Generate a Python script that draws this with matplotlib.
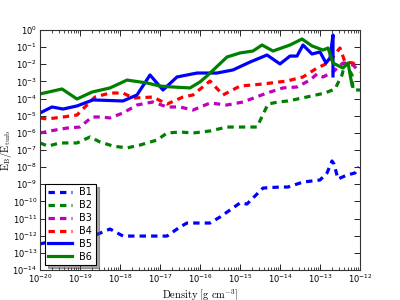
import numpy as np
import matplotlib
matplotlib.use("Agg")
import matplotlib.pyplot as plt

# log10 of density and log10 of E_B/E_turb
b1_lx = [-20, -19.55, -19.175, -18.675, -18.25, -17.925, -17.5, -16.825, -16.5, -16.325, -16.0, -15.75,
         -15.5, -15.175, -15.0, -14.825, -14.675, -14.425, -14.0, -13.8, -13.425, -13.0, -12.825, -12.7,
         -12.65, -12.55, -12.325, -12.125, -12.025]
b1_ly = [-12.48, -12.25, -12.075, -12.02, -11.61, -12.02, -12.02, -12.02, -11.49, -11.26, -11.26, -11.26,
         -10.91, -10.38, -10.09, -10.15, -9.8, -9.22, -9.16, -9.16, -8.87, -8.75, -8.34, -7.64,
         -7.82, -8.69, -8.46, -8.34, -7.99]

b2_lx = [-20, -19.8, -19.5, -19.075, -18.75, -18.5, -18.175, -17.825, -17.5, -17.075, -16.825, -16.5,
         -16.175, -15.75, -15.325, -14.575, -14.3, -14.05, -13.8, -13.45, -12.875, -12.625, -12.45,
         -12.375, -12.2, -12.175, -12.0]
b2_ly = [-6.59, -6.77, -6.59, -6.59, -6.24, -6.53, -6.77, -6.88, -6.71, -6.42, -6.01, -5.95,
         -6.01, -5.89, -5.66, -5.66, -4.32, -4.2, -4.14, -3.97, -3.675, -3.44, -2.625,
         -1.925, -2.625, -3.5, -3.5]

b3_lx = [-20, -19.75, -19.325, -19.0, -18.7, -18.5, -18.25, -17.925, -17.575, -17.175, -16.825, -16.5,
         -16.175, -15.75, -15.325, -14.925, -14.325, -13.925, -13.575, -13.25, -13.075, -12.925,
         -12.675, -12.425, -12.175, -12.0]
b3_ly = [-6.01, -5.89, -5.72, -5.66, -5.075, -5.075, -5.13, -4.84, -4.375, -4.2, -4.49, -4.49,
         -4.67, -4.26, -4.375, -4.2, -3.675, -3.38, -3.325, -2.92, -2.57, -2.74,
         -2.45, -1.925, -2.04, -2.45]

b4_lx = [-20, -19.825, -19.425, -19.075, -18.825, -18.625, -18.25, -17.925, -17.675, -17.175, -16.825,
         -16.425, -16.175, -15.75, -15.425, -15.0, -14.425, -13.825, -13.425, -13.075, -12.8, -12.5,
         -12.375, -12.175, -12.05]
b4_ly = [-5.13, -5.19, -5.075, -4.96, -4.375, -3.91, -3.675, -3.675, -3.97, -3.91, -4.32,
         -3.91, -3.79, -2.975, -3.79, -3.27, -3.15, -2.975, -2.74, -2.22, -1.925, -1.05,
         -1.87, -1.925, -2.16]

b5_lx = [-20, -19.7, -19.425, -19.075, -18.675, -17.925, -17.575, -17.25, -16.925, -16.575, -16.075,
         -15.575, -15.175, -14.75, -14.325, -14.0, -13.75, -13.575, -13.425, -13.2, -13.0, -12.85,
         -12.75, -12.675, -12.675]
b5_ly = [-4.84, -4.49, -4.61, -4.43, -4.08, -4.14, -3.79, -2.625, -3.5, -2.74, -2.51,
         -2.51, -2.33, -1.87, -1.46, -1.98, -1.52, -1.52, -0.875, -1.4, -1.28, -1.925,
         -1.63, -0.29, -2.68]

b6_lx = [-20, -19.45, -19.075, -18.7, -18.25, -17.825, -17.325, -17.0, -16.675, -16.25, -16.0, -15.825,
         -15.325, -15.0, -14.675, -14.45, -14.175, -13.75, -13.45, -13.2, -12.925, -12.8, -12.675,
         -12.425, -12.3, -12.2]
b6_ly = [-3.73, -3.44, -4.025, -3.62, -3.38, -2.92, -3.09, -3.27, -3.325, -3.38, -3.03, -2.68,
         -1.575, -1.34, -1.225, -0.875, -1.225, -0.875, -0.525, -0.93, -1.17, -1.05, -1.925,
         -2.22, -1.925, -3.21]

labels = ["B1", "B2", "B3", "B4", "B5", "B6"]

series = [(b1_lx, b1_ly), (b2_lx, b2_ly), (b3_lx, b3_ly), (b4_lx, b4_ly), (b5_lx, b5_ly), (b6_lx, b6_ly)]
colors = ["#0000ff", "#008000", "#bf00bf", "#ff0000", "#0000ff", "#008000"]
styles = ["--", "--", "--", "--", "-", "-"]

plt.rcParams["font.family"] = ["DejaVu Sans"]
plt.rcParams["mathtext.fontset"] = "dejavusans"

fig = plt.figure(figsize=(4, 3), dpi=100)
ax = fig.add_axes([0.1, 0.1, 0.8, 0.8])

for (lx, ly), c, ls, lab in zip(series, colors, styles, labels):
    line, = ax.plot(np.power(10.0, lx), np.power(10.0, ly), color=c, ls=ls, lw=2.3, label=lab)
    if ls == "--":
        line.set_dashes((2.0, 1.6))

ax.set_xscale("log")
ax.set_yscale("log")
ax.set_xlim(1e-20, 1e-12)
ax.set_ylim(1e-14, 1e0)
ax.yaxis.set_major_locator(matplotlib.ticker.LogLocator(base=10, numticks=20))
ax.yaxis.set_minor_locator(matplotlib.ticker.NullLocator())
ax.xaxis.set_major_locator(matplotlib.ticker.LogLocator(base=10, numticks=20))
ax.xaxis.set_minor_locator(matplotlib.ticker.LogLocator(base=10, subs=np.arange(2, 10), numticks=20))

ax.tick_params(which="both", direction="in", top=True, right=True, labelsize=6, pad=2)
ax.tick_params(which="major", length=4, width=0.6)
ax.tick_params(which="minor", length=2, width=0.5)
for s in ax.spines.values():
    s.set_linewidth(0.8)
    s.set_color("#333333")

ax.set_xlabel(r"$\mathrm{Density\ [g\ cm^{-3}]}$", fontsize=7.5, math_fontfamily="cm")
ax.set_ylabel(r"$\mathrm{E_B/E_{turb}}$", fontsize=7.5, math_fontfamily="cm")
ax.xaxis.set_label_coords(0.5, -0.075)
ax.yaxis.set_label_coords(-0.08, 0.5)

leg = ax.legend(loc="lower left", fontsize=7, shadow=True, fancybox=False, handlelength=2.4,
                labelspacing=0.3, borderpad=0.35, bbox_to_anchor=(0.0, 0.0))
leg.get_frame().set_edgecolor("black")
leg.get_frame().set_linewidth(0.8)

fig.savefig("out.png", dpi=100, facecolor="white")
